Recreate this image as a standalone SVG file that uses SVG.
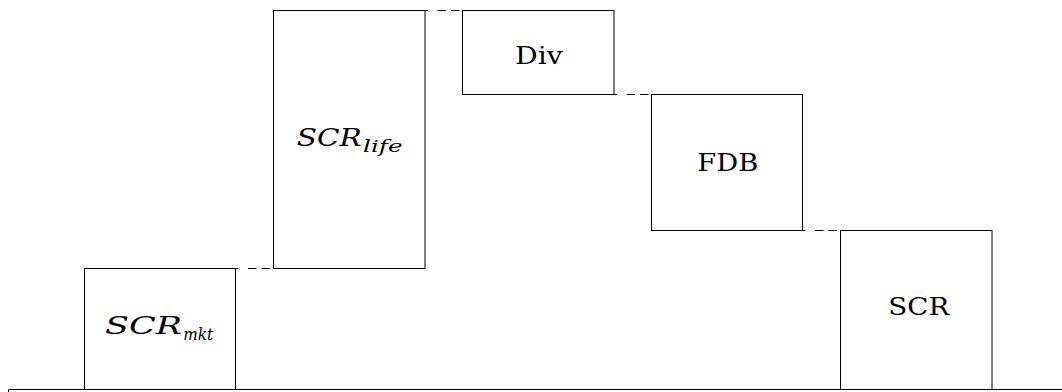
<svg xmlns="http://www.w3.org/2000/svg" width="1062" height="392" viewBox="0 0 1062 392">
  <style>
    .box { fill: #ffffff; stroke: #000000; stroke-width: 1; }
    .link { fill: none; stroke: #000000; stroke-width: 1; stroke-dasharray: 3 9.5 8.5 5 8.5 5; }
    .base { fill: none; stroke: #000000; stroke-width: 1; }
    .lbl { font-family: "DejaVu Serif", serif; font-size: 24.5px; fill: #000000; }
    .math { font-style: italic; }
    .sub { font-family: "DejaVu Serif", serif; font-style: italic; font-size: 17px; fill: #000000; }
  </style>

  <!-- ground line -->
  <g id="ground">
    <path class="base" d="M8.5 389.5 H1062 M8.5 389.5 V392"/>
  </g>

  <!-- dashed step connectors between consecutive bars -->
  <g id="connectors">
    <line class="link" x1="235.5" y1="268.5" x2="273.5" y2="268.5"/>
    <line class="link" x1="425" y1="10.5" x2="462.5" y2="10.5"/>
    <line class="link" x1="614" y1="94.5" x2="651.5" y2="94.5"/>
    <line class="link" x1="802.5" y1="230.5" x2="840.5" y2="230.5"/>
  </g>

  <g id="scr-mkt">
    <rect class="box" x="84.5" y="268.5" width="151" height="121"/>
    <text class="lbl math" x="105" y="334" textLength="77" lengthAdjust="spacingAndGlyphs">SCR</text>
    <text class="sub" x="183.3" y="340" textLength="30" lengthAdjust="spacingAndGlyphs">mkt</text>
  </g>

  <g id="scr-life">
    <rect class="box" x="273.5" y="10.5" width="151.5" height="258"/>
    <text class="lbl math" x="296.7" y="146" textLength="65" lengthAdjust="spacingAndGlyphs">SCR</text>
    <text class="sub" x="363" y="151.7" textLength="39.7" lengthAdjust="spacingAndGlyphs">life</text>
  </g>

  <g id="div">
    <rect class="box" x="462.5" y="10.5" width="151.5" height="84"/>
    <text class="lbl" x="515" y="64" textLength="47.7" lengthAdjust="spacingAndGlyphs">Div</text>
  </g>

  <g id="fdb">
    <rect class="box" x="651.5" y="94.5" width="151" height="136"/>
    <text class="lbl" x="697.3" y="171" textLength="61" lengthAdjust="spacingAndGlyphs">FDB</text>
  </g>

  <g id="scr">
    <rect class="box" x="840.5" y="230.5" width="151.5" height="159"/>
    <text class="lbl" x="888.3" y="315" textLength="61" lengthAdjust="spacingAndGlyphs">SCR</text>
  </g>
</svg>
